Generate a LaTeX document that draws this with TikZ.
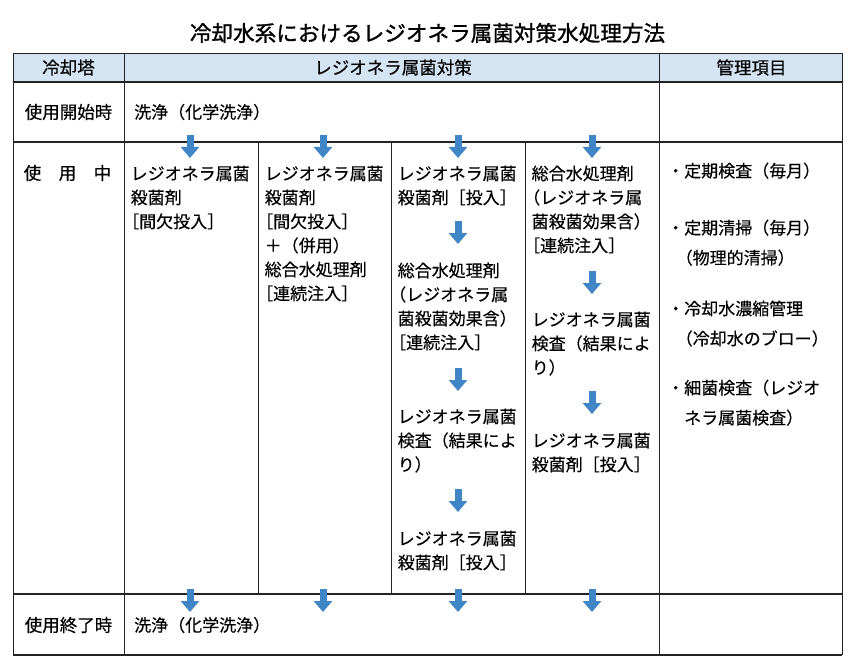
\documentclass[tikz,border=0pt]{standalone}
\usepackage{fontspec}
\setmainfont{Noto Sans CJK JP}
\newfontfamily\ttlfont[FakeBold=1.2]{Noto Sans CJK JP}
\newfontfamily\dkfont[FakeBold=0.3]{Noto Sans CJK JP}
\usetikzlibrary{arrows.meta}
\definecolor{hdrblue}{RGB}{213,228,243}
\definecolor{arrblue}{RGB}{64,134,198}
\definecolor{rulegray}{RGB}{35,35,35}
\newcommand\hb{\hspace*{-0.5em}}
\tikzset{
  body/.style={font=\dkfont\fontsize{17}{24}\selectfont, inner sep=0pt, anchor=north west, align=left, text=black},
  mgmt/.style={font=\dkfont\fontsize{17}{30}\selectfont, inner sep=0pt, anchor=north west, align=left, text=black},
  lbl/.style={font=\dkfont\fontsize{17.5}{20}\selectfont, inner sep=0pt, anchor=center, text=black},
  lblw/.style={font=\dkfont\fontsize{17}{20}\selectfont, inner sep=0pt, anchor=west, text=black},
  ttl/.style={font=\ttlfont\fontsize{21.6}{24}\selectfont, inner sep=0pt, anchor=center},
  flow/.style={line width=7pt, draw=arrblue, -{Triangle[width=18pt,length=11pt]}},
  major/.style={line width=1.3pt, draw=rulegray},
  minor/.style={line width=0.8pt, draw=rulegray},
}
\begin{document}
\begin{tikzpicture}[x=1pt,y=-1pt]
\useasboundingbox (0,0) rectangle (850,663);
\fill[white] (0,0) rectangle (850,663);

% title
\node[ttl] (title) at (427.5,33) {冷却水系におけるレジオネラ属菌対策水処理方法};

% header fill and rules
\fill[hdrblue] (13,53) rectangle (842,82);
\draw[minor] (13,53) -- (842,53);
\draw[major] (13,82) -- (842,82);
\draw[major] (13,142) -- (842,142);
\draw[major] (13,594) -- (842,594);
\draw[major] (13,655) -- (842,655);
\draw[minor] (13,53) -- (13,655);
\draw[minor] (124,53) -- (124,655);
\draw[minor] (659,53) -- (659,655);
\draw[minor] (842,53) -- (842,655);
\draw[minor] (258,142) -- (258,594);
\draw[minor] (391,142) -- (391,594);
\draw[minor] (525,142) -- (525,594);

% header texts
\node[lbl] (h1) at (68.5,67.5) {冷却塔};
\node[lbl] (h2) at (393,67.5) {レジオネラ属菌対策};
\node[lbl] (h3) at (751.5,67.5) {管理項目};

% row labels
\node[lbl] (r1) at (68.5,112) {使用開始時};
\node[lbl] (r2) at (67.5,173) {使\hspace{1em}用\hspace{1em}中};
\node[lbl] (r3) at (68.5,625) {使用終了時};

\node[lblw] (start) at (134,112) {洗浄（化学洗浄）};
\node[lblw] (end) at (134,625) {洗浄（化学洗浄）};

% column 1
\node[body] (c1a) at (130.5,165.4) {レジオネラ属菌\\殺菌剤\\\hb［間欠投入］};
% column 2
\node[body] (c2a) at (264.5,165.4) {レジオネラ属菌\\殺菌剤\\\hb［間欠投入］\\＋（併用）\\総合水処理剤\\\hb［連続注入］};
% column 3
\node[body] (c3a) at (397.5,165.4) {レジオネラ属菌\\殺菌剤［投入］};
\node[body] (c3b) at (397.5,262.4) {総合水処理剤\\\hb（レジオネラ属\\菌殺菌効果含）\\\hb［連続注入］};
\node[body] (c3c) at (397.5,408.4) {レジオネラ属菌\\検査（結果によ\\り）};
\node[body] (c3d) at (397.5,530.4) {レジオネラ属菌\\殺菌剤［投入］};
% column 4
\node[body] (c4a) at (531.5,165.4) {総合水処理剤\\\hb（レジオネラ属\\菌殺菌効果含）\\\hb［連続注入］};
\node[body] (c4b) at (531.5,311.4) {レジオネラ属菌\\検査（結果によ\\り）};
\node[body] (c4c) at (531.5,432.4) {レジオネラ属菌\\殺菌剤［投入］};

% management column
\node[mgmt] (m1) at (667,162.4) {・定期検査（毎月）};
\node[mgmt] (m2) at (667,219.4) {・定期清掃（毎月）\\\hspace*{0.5em}（物理的清掃）};
\node[mgmt] (m3) at (667,300.4) {・冷却水濃縮管理\\\hspace*{0.5em}（冷却水のブロー）};
\node[mgmt] (m4) at (667,379.4) {・細菌検査（レジオ\\\hspace*{1em}ネラ属菌検査）};

% arrow coordinates
\coordinate (t1s) at (190,135); \coordinate (t1e) at (190,158);
\coordinate (t2s) at (323,135); \coordinate (t2e) at (323,158);
\coordinate (t3s) at (458,135); \coordinate (t3e) at (458,158);
\coordinate (t4s) at (592,135); \coordinate (t4e) at (592,158);
\coordinate (b1s) at (190,589); \coordinate (b1e) at (190,612);
\coordinate (b2s) at (323,589); \coordinate (b2e) at (323,612);
\coordinate (b3s) at (458,589); \coordinate (b3e) at (458,612);
\coordinate (b4s) at (592,589); \coordinate (b4e) at (592,612);
\coordinate (a31s) at (458,221); \coordinate (a31e) at (458,244);
\coordinate (a32s) at (458,368); \coordinate (a32e) at (458,391);
\coordinate (a33s) at (458,489); \coordinate (a33e) at (458,512);
\coordinate (a41s) at (592,271); \coordinate (a41e) at (592,294);
\coordinate (a42s) at (592,391); \coordinate (a42e) at (592,414);

\foreach \a in {t1,t2,t3,t4,b1,b2,b3,b4,a31,a32,a33,a41,a42}
  \draw[flow] (\a s) -- (\a e);
\end{tikzpicture}
\end{document}
